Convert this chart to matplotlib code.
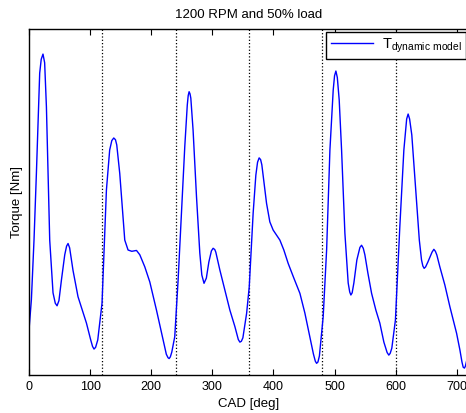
import numpy as np
import matplotlib
matplotlib.use("Agg")
import matplotlib.pyplot as plt

plt.rcParams['font.family'] = ['Liberation Sans', 'DejaVu Sans']
plt.rcParams['mathtext.fontset'] = 'custom'
plt.rcParams['mathtext.rm'] = 'Liberation Sans'

# crank angle [deg] and torque [Nm]
cad = [0, 3.9, 8.2, 12.1, 17.5, 20, 22.9, 25.6, 28.5, 33.9, 39.3, 43, 45.9, 49, 53.1, 58.5, 61.5,
       63.9, 66.5, 72, 80.2, 94, 101, 104, 106.4, 109, 112.5, 119.5, 126.7, 132, 135.5, 138.7,
       141.5, 143.6, 148.5, 156.7, 162.1, 168.2, 175.9, 181.3, 189.5, 197.7, 208.6, 219.4, 224.7,
       227.5, 229.3, 231.3, 233.7, 238.5, 244, 249.5, 254.9, 259, 260.5, 262, 263.5, 264.8,
       268.5, 274.1, 279.5, 282.8, 286.4, 290.2, 294.3, 298.5, 301.3, 304, 305.7, 312.3, 320.5,
       328.7, 336.9, 342.5, 345.1, 347.5, 350, 356.1, 360.4, 366.8, 371.2, 374, 376.6, 379, 381,
       388.7, 394.1, 399.5, 410.5, 417, 424.1, 433.4, 443.3, 451.4, 459.6, 465.4, 468.5, 470.6,
       472.8, 475.2, 481.4, 487, 492.4, 497.8, 500, 502.2, 504.5, 507.6, 511.5, 516.9, 522.3,
       524.8, 526.7, 528.8, 531.6, 536.5, 541.5, 544.2, 547, 549.6, 554.5, 560.6, 567.6, 574.1,
       580.7, 586, 588.8, 591, 593.7, 599.6, 606.8, 613.4, 618, 620.4, 622.8, 626.4, 634.1, 638.7,
       642.3, 644.5, 646.6, 649, 652.7, 659.5, 662.5, 665, 667.4, 672.3, 680.5, 688.7, 699.7,
       705.1, 708.5, 710.5, 712.5, 714, 720]
torque = [-48, -13, 56, 133, 249, 265, 271, 261, 210, 56, -5, -17, -20, -14, 10, 39, 49,
          52, 47, 21, -9.5, -40, -59.5, -67, -70, -68, -59.5, -17, 114, 160, 171, 174,
          172, 166, 133, 56, 44.5, 43, 44, 39, 25, 7.5, -25, -59.5, -76,
          -80, -81, -79, -73.4, -55.7, 9.8, 87.3, 164, 212, 223, 227.5, 225, 220,
          183, 106, 41, 15.6, 6, 12, 30.6, 43.5, 46.5, 45, 42, 21.4, -1.7,
          -25, -44, -59, -62, -61, -57, -28.7, 2, 87.3, 131, 146, 151, 149, 143,
          98.5, 77, 67.6, 56, 44.5, 29, 12, -5.6, -28.3, -55.7, -75.7, -84, -86.5,
          -85, -78, -32.6, 44.5, 160, 229.5, 246, 251.4, 244, 218, 160, 64, 6.4,
          -4, -7.5, -5, 6.4, 33, 47.5, 50, 46.5, 39, 18, -5.6, -25, -40,
          -62, -74, -77, -75, -69, -36.4, 71.4, 160, 196, 201.7, 196, 177.5, 102, 56,
          33, 26, 23.3, 25, 30.6, 42, 45.3, 43, 38.7, 25, 4, -21, -51.8,
          -71, -85, -91, -92, -90, -72]

tdc = [120, 240, 360, 480, 600]

fig = plt.figure(figsize=(4.66, 4.13), dpi=100)
ax = fig.add_axes([29/466, 38/413, 440/466, 346/413])

for x in tdc:
    ax.axvline(x, color='k', linestyle=':', linewidth=0.9)
ax.plot(cad, torque, color=(0, 0, 1), linewidth=1.0, label=r'T$_{\rm dynamic\ model}$')

ax.set_xlim(0, 720)
ax.set_ylim(-100, 300)
ax.set_xticks(np.arange(0, 701, 100))
ax.set_yticks([])
ax.tick_params(axis='x', direction='in', top=True, length=4, labelsize=9, pad=4)
for s in ax.spines.values():
    s.set_linewidth(1.0)

ax.set_xlabel('CAD [deg]', fontsize=9.5, labelpad=4)
ax.set_ylabel('Torque [Nm]', fontsize=9.5, labelpad=4)
ax.set_title('1200 RPM and 50% load', fontsize=9.5, pad=8)

leg = ax.legend(loc='upper right', fontsize=10.5, frameon=True, fancybox=False,
                edgecolor='k', framealpha=1, borderaxespad=0.2, handlelength=2.9,
                borderpad=0.3, handletextpad=0.6)
leg.get_frame().set_linewidth(1.0)

fig.savefig('out.png', dpi=100)
